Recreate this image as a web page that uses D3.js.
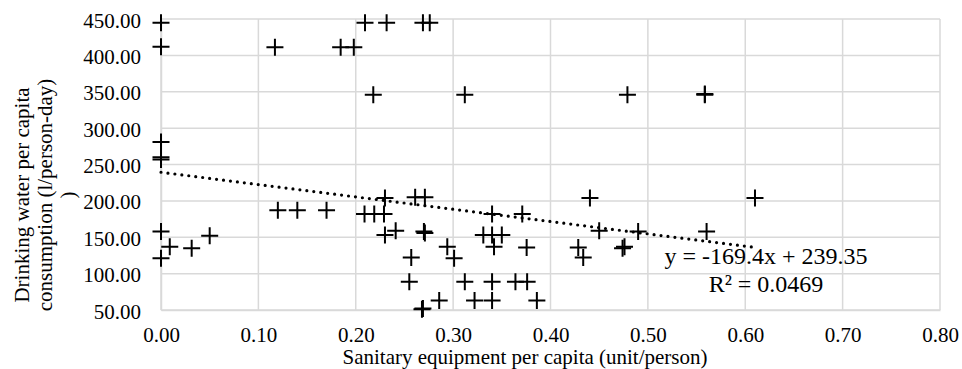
<!DOCTYPE html>
<html>
<head>
<meta charset="utf-8">
<script src="https://cdn.jsdelivr.net/npm/d3@7"></script>
<style>
  body { margin: 0; background: #fff; }
  svg { display: block; }
  text { font-family: "Liberation Serif", "Times New Roman", serif; fill: #000; }
</style>
</head>
<body>
<div id="chart"></div>
<script>
// sanitary equipment per capita (unit/person)
const sanitary = [
    0, 0, 0, 0, 0, 0, 0, 0.009, 0.0315, 0.05,
    0.117, 0.1845, 0.198, 0.2095, 0.2317, 0.269, 0.276, 0.218, 0.312, 0.479,
    0.5585, 0.5585, 0.12, 0.14, 0.17, 0.209, 0.219, 0.229, 0.23, 0.261,
    0.271, 0.23, 0.241, 0.27, 0.271, 0.257, 0.294, 0.301, 0.255, 0.269,
    0.268, 0.2857, 0.312, 0.322, 0.34, 0.34, 0.364, 0.376, 0.386, 0.331,
    0.34, 0.35, 0.342, 0.34, 0.371, 0.3755, 0.4405, 0.45, 0.49, 0.5603,
    0.61, 0.4285, 0.4336, 0.474, 0.476
];
// drinking water per capita consumption (l/person-day)
const water = [
    445, 412, 281, 260, 257, 158, 121, 137, 135, 152,
    411, 411, 411, 445, 445, 445, 445, 346, 346, 346,
    346, 347, 187, 187, 187, 182, 182, 182, 204, 205,
    205, 153, 159, 158, 156, 122, 137, 121, 89, 52,
    51, 63, 89, 63, 63, 89, 89, 89, 63, 153,
    153, 153, 137, 182, 182, 136, 204, 159, 158, 158,
    204, 136, 122, 135, 137
];

const xTicks = [0, 0.1, 0.2, 0.3, 0.4, 0.5, 0.6, 0.7, 0.8];
const yTicks = [50, 100, 150, 200, 250, 300, 350, 400, 450];

// linear trend line as labelled on the chart
const trendSlope = -169.4;
const trendIntercept = 239.35;
const trendLabel = ['y = -169.4x + 239.35', 'R\u00b2 = 0.0469'];

const xTitle = 'Sanitary equipment per capita (unit/person)';
const yTitle = ['Drinking water per capita', 'consumption (l/person-day)', ')'];

const width = 962, height = 369;
const margin = {left: 161, right: 22, top: 19, bottom: 59};

const x = d3.scaleLinear().domain([0, 0.8]).range([margin.left, width - margin.right]);
const y = d3.scaleLinear().domain([50, 450]).range([height - margin.bottom, margin.top]);

const svg = d3.select('#chart').append('svg')
    .attr('width', width)
    .attr('height', height);

// gridlines
svg.append('g')
    .selectAll('line')
    .data(yTicks)
    .enter()
    .append('line')
    .attr('x1', x(0)).attr('x2', x(0.8))
    .attr('y1', d => y(d)).attr('y2', d => y(d))
    .attr('stroke', '#d9d9d9').attr('stroke-width', 1.5);

svg.append('g')
    .selectAll('line')
    .data(xTicks)
    .enter()
    .append('line')
    .attr('x1', d => x(d)).attr('x2', d => x(d))
    .attr('y1', y(50)).attr('y2', y(450))
    .attr('stroke', '#d9d9d9').attr('stroke-width', 1.5);

// axes (labels only, no tick marks)
const xAxis = svg.append('g')
    .attr('transform', `translate(0,${y(50)})`)
    .call(d3.axisBottom(x).tickValues(xTicks).tickFormat(d3.format('.2f')).tickSize(0).tickPadding(0));
xAxis.select('.domain').attr('stroke', '#d9d9d9').attr('stroke-width', 1.5);
xAxis.selectAll('text')
    .attr('dy', null)
    .attr('y', 32)
    .style('font-size', '21px')
    .style('font-family', '"Liberation Serif", serif');

const yAxis = svg.append('g')
    .attr('transform', `translate(${x(0)},0)`)
    .call(d3.axisLeft(y).tickValues(yTicks).tickFormat(d3.format('.2f')).tickSize(0).tickPadding(20));
yAxis.select('.domain').attr('stroke', '#d9d9d9').attr('stroke-width', 1.5);
yAxis.selectAll('text')
    .attr('dy', 8)
    .style('font-size', '21px')
    .style('font-family', '"Liberation Serif", serif');

// trend line
const trendX = [0, d3.max(sanitary)];
svg.append('path')
    .datum(trendX)
    .attr('d', d3.line().x(d => x(d)).y(d => y(trendSlope * d + trendIntercept)))
    .attr('fill', 'none')
    .attr('stroke', '#000')
    .attr('stroke-width', 3.2)
    .attr('stroke-linecap', 'round')
    .attr('stroke-dasharray', '0 7');

// markers
const pts = sanitary.map((d, i) => [d, water[i]]);
const s = 8.5;
svg.append('g')
    .selectAll('path')
    .data(pts)
    .enter()
    .append('path')
    .attr('d', d => {
        const px = x(d[0]), py = y(d[1]);
        return `M${px - s},${py}H${px + s}M${px},${py - s}V${py + s}`;
    })
    .attr('stroke', '#000')
    .attr('stroke-width', 2)
    .attr('fill', 'none');

// trend equation
svg.append('g')
    .selectAll('text')
    .data(trendLabel)
    .enter()
    .append('text')
    .attr('x', 766)
    .attr('y', (d, i) => 264 + i * 28)
    .attr('text-anchor', 'middle')
    .style('font-size', '24px')
    .text(d => d);

// axis titles
svg.append('text')
    .attr('x', 525)
    .attr('y', 364)
    .attr('text-anchor', 'middle')
    .style('font-size', '21px')
    .text(xTitle);

svg.append('g')
    .attr('transform', 'translate(0,195) rotate(-90)')
    .selectAll('text')
    .data(yTitle)
    .enter()
    .append('text')
    .attr('x', 0)
    .attr('y', (d, i) => 29 + i * 23)
    .attr('text-anchor', 'middle')
    .style('font-size', '21px')
    .text(d => d);
</script>
</body>
</html>
